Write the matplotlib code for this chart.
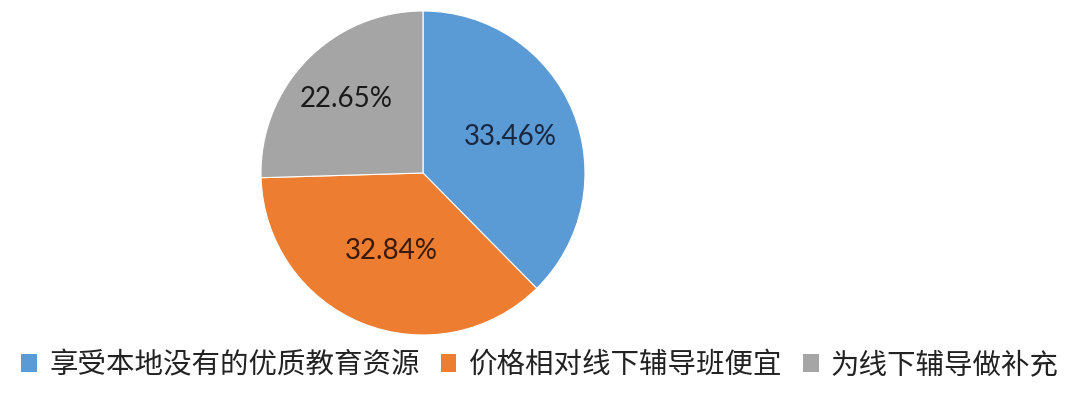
import matplotlib
matplotlib.use("Agg")
import matplotlib.pyplot as plt
from matplotlib.patches import Patch
import numpy as np

categories = ["享受本地没有的优质教育资源", "价格相对线下辅导班便宜", "为线下辅导做补充"]
values = [33.46, 32.84, 22.65]
colors = ["#5B9BD5", "#ED7D31", "#A5A5A5"]
label_colors = ["#1a2740", "#3a1a0a", "#1a1a1a"]

plt.rcParams['font.family'] = ['Noto Sans CJK SC', 'DejaVu Sans']

fig = plt.figure(figsize=(10.8, 4.03), dpi=100)
fig.patch.set_facecolor("white")
ax = fig.add_axes([261/1080, 68/403, 324/1080, 324/403])

wedges, texts = ax.pie(values, colors=colors, startangle=90, counterclock=False,
                       labels=[f"{v:.2f}%" for v in values], labeldistance=0.6,
                       wedgeprops=dict(edgecolor="white", linewidth=0.8),
                       textprops=dict(fontsize=20, family=['Lato', 'DejaVu Sans']))
dists = [0.58, 0.52, 0.66]
for w, t, c, d in zip(wedges, texts, label_colors, dists):
    ang = np.deg2rad((w.theta1 + w.theta2) / 2)
    t.set_position((d * np.cos(ang), d * np.sin(ang)))
    t.set_color(c)
    t.set_ha("center")
    t.set_va("center")
ax.set_xlim(-1, 1)
ax.set_ylim(-1, 1)
ax.set_aspect("equal")

handles = [Patch(facecolor=c, edgecolor="none") for c in colors]
leg = fig.legend(handles, categories, loc="center", bbox_to_anchor=(0.5, 38/403),
                 ncol=3, frameon=False, fontsize=20.5, handlelength=0.56, handleheight=0.56,
                 handletextpad=0.42, columnspacing=0.74, labelcolor="#222222",
                 borderpad=0, borderaxespad=0)

fig.savefig("out.png", dpi=100, facecolor="white")
